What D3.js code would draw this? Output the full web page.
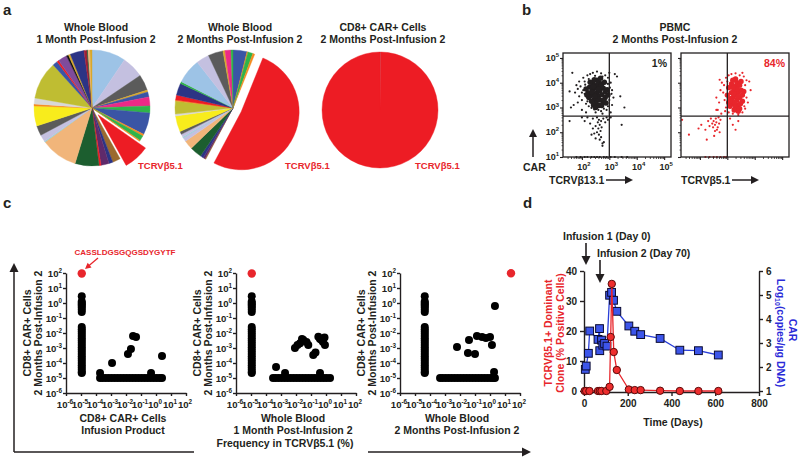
<!DOCTYPE html>
<html><head><meta charset="utf-8">
<script src="https://cdn.jsdelivr.net/npm/d3@7/dist/d3.min.js"></script>
<style>
html,body{margin:0;padding:0;background:#fff;}
svg{display:block;}
</style></head>
<body>
<script>
// ================= DATA =================
// Panel a : pie slices in degrees, clockwise from 12 o'clock
const pie1Values = [34,22,16,2,5,9,7,22,2,5,1,26,8,4,8,2,24,37,1,7,10,20,2,6,38,5,2,9,2,2,14,3,1,2,2];
const pie1Colors = ["lb","lv","dg","gd","bl","pk","gr","bl","or","gr","or","rd","br","nv","pu","rd","dk","pe","tl","lv","dg","ye","or","lg","ol","bl","rd","vi","bk","gd","nv","dr","dk","pe","gd"];
const pie1Dominant = 11;
const pie2Values = [14,1,5,2,186,1,2,3,12,9,4,1,3,3,16,2,13,1,5,12,2,25,13,15,2,6,2];
const pie2Colors = ["bl","or","gr","or","rd","br","pu","nv","dk","pe","lv","tl","lv","dg","ye","lg","ol","or","rd","nv","gr","lb","lv","dg","gd","pk","gr"];
const pie2Dominant = 4;
const pie3Values = [0.5, 359.5];
const pie3Colors = ["gy","rd"];
const pieTitles = [["Whole Blood","1 Month Post-Infusion 2"],["Whole Blood","2 Months Post-Infusion 2"],["CD8+ CAR+ Cells","2 Months Post-Infusion 2"]];
const pieLabel = "TCRVβ5.1";

// Panel b : flow cytometry events, "log10(x),log10(y)"
const flow1Core = "2.55,3.60 2.45,3.55 2.65,3.68 2.50,3.78 2.60,3.45 2.38,3.70 2.72,3.52 2.33,3.48 2.55,3.90 2.78,3.78 2.45,3.32 2.66,3.30 2.28,3.82 2.85,3.62 2.52,3.18 2.62,4.00 2.40,3.98 2.22,3.60 2.85,3.40 2.72,3.95 2.35,3.25 2.92,3.72 2.25,3.40 2.78,3.20 2.55,4.10 2.15,3.75 2.45,4.12 2.82,4.02 2.95,3.50 2.62,3.08 2.30,4.02 2.42,3.10 2.72,3.08 2.50,3.00 2.88,3.18 2.18,3.50 2.68,4.18 2.36,3.62 2.58,3.35 2.48,3.45 2.70,3.85 2.60,3.75 2.42,3.85 2.80,3.30";
const flow1Sparse = "1.65,4.40 1.80,3.90 1.75,3.60 1.95,3.85 2.05,4.20 1.90,3.45 2.00,3.30 2.10,4.05 2.15,3.15 2.20,4.30 2.30,4.35 2.40,4.40 2.55,4.45 2.70,4.38 2.85,4.30 2.95,4.20 3.05,4.00 3.02,3.80 3.08,3.55 3.00,3.30 2.95,3.05 2.90,2.90 2.80,2.95 2.70,2.85 2.60,2.90 2.45,2.92 2.35,2.98 2.25,3.05 2.10,3.55 2.05,3.70 1.85,3.20 1.70,3.10 1.55,3.65 1.60,3.00 2.00,2.90 2.15,2.80 2.50,2.80 2.75,2.75 3.05,2.80 3.10,3.10 1.90,4.05 2.25,4.15 2.95,3.95 3.10,3.70 2.12,3.92 2.00,3.60 1.85,3.75 2.20,3.25 2.98,3.60 3.00,4.40 2.75,4.25 2.48,4.28 3.20,4.35 3.28,4.25 3.55,3.00 3.40,3.45 3.15,3.40 2.40,2.55 2.55,2.60 2.62,2.50 2.70,2.45 2.58,2.40 2.65,2.30 2.50,2.25 2.72,2.20 2.60,2.15 2.68,2.05 2.55,2.00 2.45,1.95 2.62,1.90 2.70,1.80 2.50,1.75 2.40,2.15 2.30,2.35 2.20,2.60 2.10,2.45 2.00,2.60 1.55,2.45 2.35,1.90 2.78,2.55 2.85,2.40 2.90,2.60 2.80,1.60 2.75,1.45 2.75,1.55 2.65,1.70 2.95,2.50 3.05,2.60 3.45,2.30 1.80,1.00 1.95,1.00 2.10,1.00 2.20,1.00 2.35,1.00 2.45,1.00 2.55,1.00 2.65,1.00 2.80,1.00 2.90,1.00 3.05,1.00 3.20,1.00 3.45,1.00 3.65,1.00";
const flow2Core = "3.30,3.50 3.20,3.40 3.40,3.60 3.25,3.70 3.35,3.30 3.15,3.60 3.45,3.40 3.10,3.35 3.30,3.85 3.50,3.70 3.20,3.15 3.40,3.10 3.05,3.80 3.55,3.50 3.30,3.00 3.35,4.00 3.15,3.95 3.00,3.50 3.55,3.25 3.45,3.90 3.10,3.05 3.60,3.65 3.05,3.20 3.45,2.95 3.30,4.15 3.20,4.10 3.50,4.05 3.25,2.90 3.40,2.85 3.15,3.25 3.35,3.75 3.25,3.55 3.38,3.45 3.22,3.80 3.28,3.20 3.48,3.15";
const flow2Sparse = "2.95,4.20 3.05,4.30 3.15,4.35 3.30,4.38 3.45,4.30 3.60,4.25 3.70,4.10 3.80,4.05 3.65,3.90 3.70,3.40 3.75,3.20 3.65,2.95 3.55,2.80 3.40,2.70 3.20,2.75 3.05,2.80 2.95,3.00 2.90,3.30 2.85,3.60 2.88,3.90 2.80,4.00 2.75,3.70 2.70,3.20 2.65,2.90 2.78,2.75 2.60,3.40 3.00,4.05 3.55,4.40 3.85,3.70 3.62,3.05 2.72,4.12 2.92,2.85 2.40,2.55 2.50,2.45 2.55,2.30 2.60,2.40 2.65,2.20 2.70,2.35 2.62,2.10 2.55,2.05 2.48,2.20 2.75,2.50 2.68,2.60 2.45,2.35 2.58,2.55 2.72,2.00 2.35,2.25 2.30,2.45 2.20,2.10 2.05,2.30 1.95,2.15 2.25,1.70 1.60,1.90 1.35,2.50 2.60,2.90 2.52,1.85 3.30,2.10 3.40,2.45 3.10,2.55 3.20,2.30 2.20,1.00 2.35,1.00 2.50,1.00 2.62,1.00 2.75,1.00 2.88,1.00 2.96,1.00";
const flowPercents = ["1%","84%"];
const flowXLabels = ["TCRVβ13.1","TCRVβ5.1"];
const flowTickExp = [1,2,3,4,5];

// Panel c : clonotype frequencies, log10 values
const cColumnY = [0.45,0.1,0.0,-0.1,-0.2,-0.32,-0.45,-0.6,-1.6,-1.75,-1.9,-2.05,-2.2,-2.35,-2.5,-2.65,-2.8,-2.95,-3.1,-3.25,-3.4,-3.55,-3.7,-3.85,-4.0,-4.15,-4.3,-4.45,-4.6,-4.67];
const cColumnX = [-4.95,-4.95,-4.35];
const cRowY = -5;
const cRow1X = [-3.73,-3.55,-3.35,-3.15,-2.95,-2.75,-2.55,-2.35,-2.15,-1.95,-1.75,-1.55,-1.35,-1.15,-0.95,-0.75,-0.55,-0.35,-0.15,0.05,0.25,0.4];
const cRow2X = [-3.53,-3.35,-3.15,-2.95,-2.75,-2.55,-2.35,-2.15,-1.95,-1.75,-1.55,-1.35,-1.15,-0.95,-0.75,-0.55,-0.35,-0.15,0.05,0.27];
const cRow3X = [-3.33,-3.15,-2.95,-2.75,-2.55,-2.35,-2.15,-1.95,-1.75,-1.55,-1.35,-1.15,-0.95,-0.75,-0.55,-0.35,-0.15,0.05,0.2,0.33];
const cOther1 = [[-3.73,-4.67],[-2.93,-4.0],[-1.87,-3.4],[-1.67,-3.07],[-1.53,-2.2],[-1.33,-2.27],[-0.33,-4.67],[0.4,-3.53]];
const cOther2 = [[-3.33,-4.27],[-2.73,-4.67],[-0.4,-4.67],[-2.07,-3.0],[-1.73,-2.69],[-1.51,-2.47],[-1.18,-2.8],[-0.85,-3.47],[-0.51,-2.25],[-0.29,-2.47],[-0.07,-2.8],[-1.9,-2.8],[-1.6,-2.4],[-1.3,-2.6],[-0.7,-3.3],[-0.4,-2.4],[-0.2,-2.6],[-0.1,-2.3]];
const cOther3 = [[-2.2,-2.93],[-1.4,-2.47],[-1.47,-3.33],[-1.0,-3.4],[-0.87,-2.2],[-0.53,-2.27],[-0.27,-2.33],[0.0,-2.27],[0.13,-2.8],[0.33,-0.2],[0.27,-4.6]];
const cDominant = [[-4.95,1.97],[-4.95,1.97],[1.4,1.98]];
const cTickExp = [-6,-5,-4,-3,-2,-1,0,1,2];
const cXTitles = [["CD8+ CAR+ Cells","Infusion Product"],["Whole Blood","1 Month Post-Infusion 2"],["Whole Blood","2 Months Post-Infusion 2"]];
const cYTitle = ["CD8+ CAR+ Cells","2 Months Post-Infusion 2"];
const cSequence = "CASSLDGSGQGSDYGYTF";

// Panel d : time course
const redDays = [3,10,25,64,72,80,102,117,122,127,136,150,205,232,259,348,438,523,614];
const redPct  = [0,0,0,0,0,0,0,1.4,18,35.7,13,7,0.5,0.3,0.3,0.1,0,0,0];
const blueDays = [6,10,20,26,64,71,72,80,86,94,105,117,126,135,150,205,232,259,348,438,523,614];
const blueLog  = [1.9,2.04,2.57,3.5,3.15,3.6,2.68,3.12,2.91,2.98,2.87,4.99,5.11,4.78,4.32,3.71,3.49,3.35,3.19,2.7,2.68,2.5];
const dXTicks = [0,200,400,600,800];
const dLeftTicks = [0,10,20,30,40];
const dRightTicks = [1,2,3,4,5,6];

// ================= DRAW =================
const FONT = '"Liberation Sans", Arial, Helvetica, sans-serif';
const ink = "#231f20";
const RED = "#e8262c";
const pal = {lb:"#9dc3e6",lv:"#c4c0e0",dg:"#5b5b5b",gd:"#d9a82a",bl:"#3a55a5",pk:"#ec2a86",gr:"#2fb34a",or:"#f58a1f",
  rd:"#ed1c24",br:"#9b6a2f",nv:"#2c3485",pu:"#5f2a6b",dk:"#1c5e2f",pe:"#f1b57a",lg:"#d8d8d8",ye:"#f8ec1c",ol:"#bfbd32",
  vi:"#7f4b9b",bk:"#111111",dr:"#a11f36",tl:"#8fd2d4",gy:"#8a7d95"};

const svg = d3.select("body").append("svg").attr("width",800).attr("height",462)
  .style("font-family",FONT).style("font-weight","bold");

function txt(g,x,y,s,size,anchor="start",color=ink){
  return g.append("text").attr("x",x).attr("y",y).attr("font-size",size).attr("text-anchor",anchor).attr("fill",color).text(s);
}
function sup(g,x,y,base,exp,size,anchor="middle",color=ink){
  const t=g.append("text").attr("x",x).attr("y",y).attr("font-size",size).attr("text-anchor",anchor).attr("fill",color);
  t.append("tspan").text(base);
  t.append("tspan").attr("font-size",size*0.66).attr("dy",-size*0.42).text(exp);
  return t;
}
function arrow(x1,y1,x2,y2,w=1.5,hl=8,hw=4,color=ink){
  const a=Math.atan2(y2-y1,x2-x1);
  const bx=x2-hl*Math.cos(a), by=y2-hl*Math.sin(a);
  svg.append("line").attr("x1",x1).attr("y1",y1).attr("x2",bx+Math.cos(a)).attr("y2",by+Math.sin(a))
    .attr("stroke",color).attr("stroke-width",w);
  const px=-Math.sin(a)*hw, py=Math.cos(a)*hw;
  svg.append("polygon").attr("points",`${x2},${y2} ${bx+px},${by+py} ${bx-px},${by-py}`).attr("fill",color);
}
function styleAxis(g,size,color=ink,w=1.3){
  g.selectAll("path.domain").attr("stroke",color).attr("stroke-width",w);
  g.selectAll(".tick line").attr("stroke",color).attr("stroke-width",w);
  g.selectAll("text").attr("font-size",size).attr("fill",color).attr("font-family",FONT).attr("font-weight","bold");
}

// panel letters
txt(svg,3,15,"a",15); txt(svg,522,15,"b",15); txt(svg,3,208,"c",15); txt(svg,523,208,"d",15);

// ---------- Panel a ----------
const pieCenters = [[92,108],[233,108],[380,110]];
const pieSets = [[pie1Values,pie1Colors,pie1Dominant],[pie2Values,pie2Colors,pie2Dominant],[pie3Values,pie3Colors,-1]];
const titleX = [96,240,383];
const R = 58;
pieSets.forEach(([vals,cols,hi],k)=>{
  const [cx,cy]=pieCenters[k];
  const g=svg.append("g").attr("transform",`translate(${cx},${cy})`);
  const arcs=d3.pie().sort(null).value(d=>d)(vals);
  const arc=d3.arc().innerRadius(0).outerRadius(R);
  g.selectAll("path").data(arcs).join("path").attr("d",arc)
    .attr("fill",(d,i)=>pal[cols[i]]).attr("stroke",(d,i)=>pal[cols[i]]).attr("stroke-width",0.4)
    .attr("transform",(d,i)=>{ if(i!==hi) return null; const m=(d.startAngle+d.endAngle)/2; return `translate(${Math.sin(m)*9},${-Math.cos(m)*9})`; });
  txt(svg,titleX[k],31,pieTitles[k][0],10.5,"middle");
  txt(svg,titleX[k],43,pieTitles[k][1],10.5,"middle");
});
[138,285,415].forEach(x=>txt(svg,x,169,pieLabel,9.5,"start",RED));

// ---------- Panel b ----------
txt(svg,675,31,"PBMC",10.5,"middle");
txt(svg,675,43,"2 Months Post-Infusion 2",10.5,"middle");
const boxX=[563,681], boxW=108, boxTop=53, boxH=104;
const parse=s=>s.trim().split(/\s+/).map(p=>p.split(",").map(Number));
const flowSets=[[flow1Core,flow1Sparse,ink],[flow2Core,flow2Sparse,RED]];
flowSets.forEach(([core,sparse,col],k)=>{
  const fx=d3.scaleLog().domain([Math.pow(10,1.31),Math.pow(10,5.25)]).range([boxX[k],boxX[k]+boxW]);
  const fy=d3.scaleLog().domain([10,Math.pow(10,5.2)]).range([boxTop+boxH,boxTop]);
  const g=svg.append("g");
  g.selectAll("circle.c").data(parse(core)).join("circle").attr("class","c")
    .attr("cx",d=>fx(10**d[0])).attr("cy",d=>fy(10**d[1])).attr("r",2.7).attr("fill",col);
  g.selectAll("circle.s").data(parse(sparse)).join("circle").attr("class","s")
    .attr("cx",d=>fx(10**d[0])).attr("cy",d=>fy(10**d[1])).attr("r",1.1).attr("fill",col);
  svg.append("rect").attr("x",boxX[k]).attr("y",boxTop).attr("width",boxW).attr("height",boxH)
    .attr("fill","none").attr("stroke",ink).attr("stroke-width",1.3);
  svg.append("line").attr("x1",fx(1000)).attr("x2",fx(1000)).attr("y1",boxTop).attr("y2",boxTop+boxH).attr("stroke",ink).attr("stroke-width",1.3);
  svg.append("line").attr("x1",boxX[k]).attr("x2",boxX[k]+boxW).attr("y1",fy(Math.pow(10,2.65))).attr("y2",fy(Math.pow(10,2.65))).attr("stroke",ink).attr("stroke-width",1.3);
  const minor=[]; for(let e=1;e<=5;e++) for(let m=2;m<=9;m++){ minor.push(m*10**e); }
  const ax=svg.append("g").attr("transform",`translate(0,${boxTop+boxH})`)
    .call(d3.axisBottom(fx).tickValues(minor.filter(v=>v>fx.domain()[0]&&v<fx.domain()[1])).tickSize(2).tickFormat(""));
  styleAxis(ax,9,ink,0.8); ax.select("path.domain").remove();
  const ax2=svg.append("g").attr("transform",`translate(0,${boxTop+boxH})`)
    .call(d3.axisBottom(fx).tickValues(flowTickExp.filter(e=>e>=2).map(e=>10**e)).tickSize(3).tickFormat(""));
  styleAxis(ax2,9,ink,1.1); ax2.select("path.domain").remove();
  const ay=svg.append("g").attr("transform",`translate(${boxX[k]},0)`)
    .call(d3.axisLeft(fy).tickValues(flowTickExp.map(e=>10**e)).tickSize(3).tickFormat(""));
  styleAxis(ay,9,ink,1.1); ay.select("path.domain").remove();
  const ay2=svg.append("g").attr("transform",`translate(${boxX[k]},0)`)
    .call(d3.axisLeft(fy).tickValues(minor.filter(v=>v<fy.domain()[1])).tickSize(1.5).tickFormat(""));
  styleAxis(ay2,9,ink,0.7); ay2.select("path.domain").remove();
  if(k===0){
    flowTickExp.forEach(e=>sup(svg,559,fy(10**e)+3,"10",String(e),9,"end"));
    flowTickExp.filter(e=>e>=2).forEach(e=>sup(svg,fx(10**e)+2,170,"10",String(e),9,"middle"));
  }
  txt(svg,boxX[k]+boxW-4,67,flowPercents[k],10.5,"end",k===0?ink:RED);
});
txt(svg,549,184,flowXLabels[0],10.5,"start");
arrow(606,180,633,180,1.5,8,4);
txt(svg,681,184,flowXLabels[1],10.5,"start");
arrow(732,180,759,180,1.5,8,4);
arrow(533,157,533,129,1.5,8,4);
txt(svg,523,171,"CAR",10.5,"start");

// ---------- Panel c ----------
const cOrigins=[66,236,400];
const cRows=[cRow1X,cRow2X,cRow3X];
const cOthers=[cOther1,cOther2,cOther3];
cOrigins.forEach((x0,k)=>{
  const sx=d3.scaleLog().domain([1e-6,1e2]).range([x0,x0+120]);
  const sy=d3.scaleLog().domain([1e-6,1e2]).range([393,273]);
  const g=svg.append("g");
  const pts=[]
    .concat(cColumnY.map(y=>[cColumnX[k],y]))
    .concat(cRows[k].map(x=>[x,cRowY]))
    .concat(cOthers[k]);
  g.selectAll("circle.b").data(pts).join("circle").attr("class","b")
    .attr("cx",d=>sx(10**d[0])).attr("cy",d=>sy(10**d[1])).attr("r",4).attr("fill","#000");
  g.append("circle").datum(cDominant[k]).attr("cx",d=>sx(10**d[0])).attr("cy",d=>sy(10**d[1])).attr("r",4.2).attr("fill",RED);
  const ax=svg.append("g").attr("transform","translate(0,393)")
    .call(d3.axisBottom(sx).tickValues(cTickExp.map(e=>10**e)).tickSize(3).tickSizeOuter(0).tickFormat(""));
  styleAxis(ax,9,ink,1.4);
  const ay=svg.append("g").attr("transform",`translate(${x0},0)`)
    .call(d3.axisLeft(sy).tickValues(cTickExp.map(e=>10**e)).tickSize(3).tickSizeOuter(0).tickFormat(""));
  styleAxis(ay,9,ink,1.4);
  cTickExp.forEach(e=>{
    sup(svg,sx(10**e)-1,408,"10",String(e),9.6,"middle");
    sup(svg,x0-4,sy(10**e)+4,"10",String(e),9.6,"end");
  });
  txt(svg,x0+57,422,cXTitles[k][0],10.5,"middle");
  txt(svg,x0+57,434,cXTitles[k][1],10.5,"middle");
  const t1=x0-35, t2=x0-24;
  txt(svg,0,0,cYTitle[0],10.5,"middle").attr("transform",`translate(${t1},333) rotate(-90)`);
  txt(svg,0,0,cYTitle[1],10.5,"middle").attr("transform",`translate(${t2},333) rotate(-90)`);
});
txt(svg,125,255,cSequence,8,"middle",RED);
arrow(98,258,85,269,1.3,6,3,RED);
arrow(14,452,14,263,1.5,9,4.5);
svg.append("line").attr("x1",14).attr("x2",194).attr("y1",452).attr("y2",452).attr("stroke",ink).attr("stroke-width",1.5);
arrow(368,452,531,452,1.5,9,4.5);
txt(svg,285,447,"Frequency in TCRVβ5.1 (%)",10.5,"middle");

// ---------- Panel d ----------
const dx=d3.scaleLinear().domain([0,800]).range([584,759]);
const yL=d3.scaleLinear().domain([0,40]).range([391,271]);
const yR=d3.scaleLinear().domain([1,6]).range([391,271]);
const axB=svg.append("g").attr("transform","translate(0,392)")
  .call(d3.axisBottom(dx).tickValues(dXTicks).tickSize(4).tickSizeOuter(0).tickPadding(4).tickFormat(d3.format("d")));
styleAxis(axB,10,ink,1.4);
const axL=svg.append("g").attr("transform","translate(584,0)")
  .call(d3.axisLeft(yL).tickValues(dLeftTicks).tickSize(4).tickSizeOuter(0).tickPadding(3).tickFormat(d3.format("d")));
styleAxis(axL,10,ink,1.4);
const axR=svg.append("g").attr("transform","translate(759,0)")
  .call(d3.axisRight(yR).tickValues(dRightTicks).tickSize(4).tickSizeOuter(0).tickPadding(3).tickFormat(d3.format("d")));
styleAxis(axR,10,ink,1.4);

const blue=blueDays.map((d,i)=>[d,blueLog[i]]);
const red=redDays.map((d,i)=>[d,redPct[i]]);
svg.append("path").datum(blue).attr("d",d3.line().x(d=>dx(d[0])).y(d=>yR(d[1])))
  .attr("fill","none").attr("stroke","#2a3fd8").attr("stroke-width",1.3);
svg.selectAll("rect.bsq").data(blue).join("rect").attr("class","bsq")
  .attr("x",d=>dx(d[0])-3.9).attr("y",d=>yR(d[1])-3.9).attr("width",7.8).attr("height",7.8)
  .attr("fill","#3c55ea").attr("stroke","#0a0a30").attr("stroke-width",1);
svg.append("path").datum(red).attr("d",d3.line().x(d=>dx(d[0])).y(d=>yL(d[1])))
  .attr("fill","none").attr("stroke",RED).attr("stroke-width",1.3);
svg.selectAll("circle.rc").data(red).join("circle").attr("class","rc")
  .attr("cx",d=>dx(d[0])).attr("cy",d=>yL(d[1])).attr("r",3.7)
  .attr("fill","#ee2d2d").attr("stroke","#5a0a0a").attr("stroke-width",1);

txt(svg,673,426,"Time (Days)",10.5,"middle");
txt(svg,0,0,"TCRVβ5.1+ Dominant",10.5,"middle",RED).attr("transform","translate(552,333) rotate(-90)");
txt(svg,0,0,"Clone (% Positive Cells)",10.5,"middle",RED).attr("transform","translate(564,333) rotate(-90)");
txt(svg,0,0,"CAR",10.5,"middle","#2a2ad8").attr("transform","translate(789,330) rotate(90)");
const lt=svg.append("text").attr("font-size",10.5).attr("text-anchor","middle").attr("fill","#2a2ad8")
  .attr("transform","translate(777,333) rotate(90)");
lt.append("tspan").text("Log");
lt.append("tspan").attr("font-size",7).attr("dy",2.5).text("10");
lt.append("tspan").attr("dy",-2.5).text("(copies/µg DNA)");

txt(svg,563,240,"Infusion 1 (Day 0)",10.5,"start");
arrow(586,243,586,265,1.6,9,4.5);
txt(svg,597,257,"Infusion 2 (Day 70)",10.5,"start");
arrow(600,260,600,283,1.6,9,4.5);
</script>
</body></html>
